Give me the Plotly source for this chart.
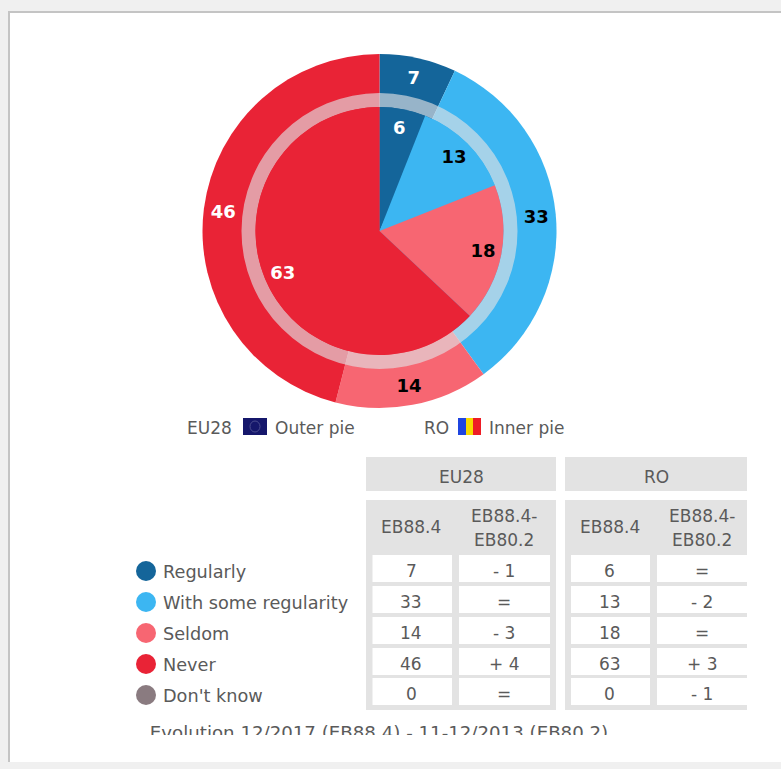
import plotly.graph_objects as go

W, H = 781, 769

categories = ["Regularly", "With some regularity", "Seldom", "Never", "Don't know"]
colors = ["#14659a", "#3cb6f2", "#f76672", "#e92336", "#8a7b80"]
eu_values = [7, 33, 14, 46, 0]
ro_values = [6, 13, 18, 63, 0]
eu_change = ["- 1", "=", "- 3", "+ 4", "="]
ro_change = ["=", "- 2", "=", "+ 3", "- 1"]
period_now = "EB88.4"
period_diff = ["EB88.4-", "EB80.2"]
footer = "Evolution 12/2017 (EB88.4) - 11-12/2013 (EB80.2)"

FONT = "DejaVu Sans"
TXT = "#5a5a5a"
CX, CY = 379.5, 231
R_OUT, R_RING, R_IN = 177, 138, 124


def dom(r):
    return dict(x=[(CX - r) / W, (CX + r) / W], y=[1 - (CY + r) / H, 1 - (CY - r) / H])


def pie(vals, r, hole=0, text=None, fill=None, fontcolors=None):
    return go.Pie(
        values=vals, labels=categories, domain=dom(r), hole=hole, sort=False,
        direction="clockwise", rotation=0,
        marker=dict(colors=fill or colors, line=dict(width=0)),
        text=text, textinfo="text" if text else "none",
        textposition="inside" if text else "none",
        insidetextorientation="horizontal",
        insidetextfont=dict(family=FONT, size=18, color=fontcolors, weight="bold"),
        showlegend=False, hoverinfo="skip",
    )


def labels(vals):
    return [str(v) if v else "" for v in vals]


clear = ["rgba(0,0,0,0)"] * 5
fc_eu = ["white", "black", "black", "white", "black"]
fc_ro = ["white", "black", "black", "white", "black"]

fig = go.Figure()
fig.add_trace(go.Scatter(
    x=[146] * 5, y=[571, 602, 633, 664, 695], mode="markers",
    marker=dict(size=20, color=colors, line=dict(width=0)),
    showlegend=False, hoverinfo="skip", xaxis="x", yaxis="y",
))
fig.add_trace(go.Scatter(
    x=[163] * 5, y=[574, 605, 636, 667, 698], mode="text", text=categories,
    textposition="middle right", textfont=dict(family=FONT, size=17.7, color=TXT),
    showlegend=False, hoverinfo="skip", xaxis="x", yaxis="y",
))
fig.add_trace(go.Scatter(
    x=[379], y=[734], mode="text", text=[footer], textposition="middle center",
    textfont=dict(family=FONT, size=18.2, color=TXT), cliponaxis=True,
    showlegend=False, hoverinfo="skip", xaxis="x2", yaxis="y2",
))
fig.add_trace(pie(eu_values, R_OUT))
fig.add_trace(go.Pie(
    values=[1], labels=["ring"], domain=dom(R_RING), hole=R_IN / R_RING, sort=False,
    marker=dict(colors=["rgba(225,225,228,0.64)"], line=dict(width=0)),
    textinfo="none", showlegend=False, hoverinfo="skip",
))
fig.add_trace(pie(ro_values, R_IN))
fig.add_trace(pie(eu_values, R_OUT, hole=0.78, text=labels(eu_values), fill=clear, fontcolors=fc_eu))
fig.add_trace(pie(ro_values, R_IN, hole=0.70, text=labels(ro_values), fill=clear, fontcolors=fc_ro))

shapes, ann = [], []


def rect(x0, y0, x1, y1, color, layer="below"):
    shapes.append(dict(type="rect", x0=x0, y0=y0, x1=x1, y1=y1, xref="x", yref="y",
                       fillcolor=color, line=dict(width=0), layer=layer))


def text(x, y, s, size=17, anchor="center"):
    ann.append(dict(x=x, y=y, xref="x", yref="y", text=s, showarrow=False, xanchor=anchor,
                    yanchor="middle", font=dict(family=FONT, size=size, color=TXT)))


# page frame
rect(0, 0, W, H, "#f0f0f0")
rect(8, 11, W, 762, "#c4c4c4")
rect(10, 13, W, 762, "#ffffff")

PANEL = "#e3e3e3"
rows_y = [555, 586, 617, 648, 678]
ROW_H = 27
tables = [
    dict(name="EU28", x0=366, x1=556, c1=(372.5, 452), c2=(459, 550), vals=eu_values, ch=eu_change),
    dict(name="RO", x0=565, x1=747, c1=(571, 650), c2=(657, 747), vals=ro_values, ch=ro_change),
]
for t in tables:
    rect(t["x0"], 457, t["x1"], 491, PANEL)
    rect(t["x0"], 500, t["x1"], 710, PANEL)
    text((t["x0"] + t["x1"]) / 2, 477, t["name"])
    m1 = sum(t["c1"]) / 2 - 1
    m2 = t["c2"][0] + 44.5
    text(m1, 527, period_now)
    text(m2, 516, period_diff[0])
    text(m2, 540, period_diff[1])
    for y, v, c in zip(rows_y, t["vals"], t["ch"]):
        rect(t["c1"][0], y, t["c1"][1], y + ROW_H, "#ffffff")
        rect(t["c2"][0], y, t["c2"][1], y + ROW_H, "#ffffff")
        text(m1, y + ROW_H / 2 + 2, str(v))
        text(m2, y + ROW_H / 2 + 2, c)

# pie key with flags
text(185, 428, "EU28", anchor="left")
rect(243, 418, 267, 435, "#15176b", layer="above")
shapes.append(dict(type="circle", x0=250, y0=421, x1=260, y1=432, xref="x", yref="y",
                   line=dict(color="#4a4c8f", width=1), layer="above"))
text(273, 428, "Outer pie", anchor="left")
text(422, 428, "RO", anchor="left")
rect(458, 418, 466, 435, "#1f45e0", layer="above")
rect(466, 418, 473, 435, "#f7d900", layer="above")
rect(473, 418, 481, 435, "#ee1c25", layer="above")
text(487, 428, "Inner pie", anchor="left")

fig.update_layout(
    width=W, height=H, margin=dict(l=0, r=0, t=0, b=0), autosize=False,
    paper_bgcolor="white", plot_bgcolor="rgba(0,0,0,0)",
    shapes=shapes, annotations=ann,
    xaxis=dict(range=[0, W], visible=False, domain=[0, 1], fixedrange=True),
    yaxis=dict(range=[H, 0], visible=False, domain=[0, 1], fixedrange=True),
    xaxis2=dict(range=[0, W], visible=False, domain=[0, 1], anchor="y2", fixedrange=True),
    yaxis2=dict(range=[735, 715], visible=False, domain=[1 - 735 / H, 1 - 715 / H], anchor="x2", fixedrange=True),
)
fig.write_html("out.html", config=dict(displayModeBar=False),
               post_script="document.body.style.margin='0';document.documentElement.style.overflow='hidden';")
